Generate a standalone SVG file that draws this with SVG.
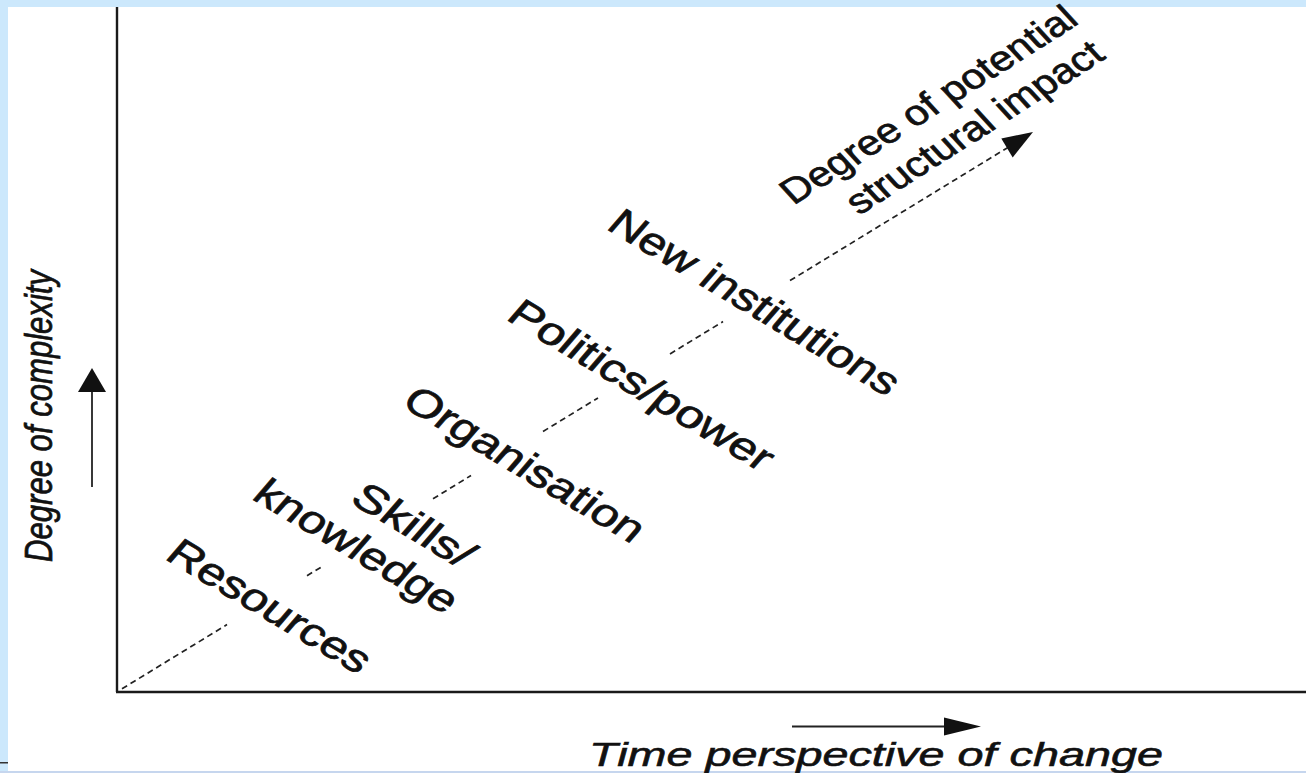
<svg xmlns="http://www.w3.org/2000/svg" width="1306" height="773" viewBox="0 0 1306 773">
<style>
.lbl{font-family:"Liberation Sans",Arial,sans-serif;font-size:38px;fill:#111;stroke:#111;stroke-width:0.7;text-anchor:middle;dominant-baseline:central}
.up{font-size:35px}
.ax{font-family:"Liberation Sans",Arial,sans-serif;font-style:italic;fill:#111;stroke:#111;stroke-width:0.6}
.axis{stroke:#1a1a1a;stroke-width:2.4;fill:none}
.dash{stroke:#222;stroke-width:1.7;stroke-dasharray:6 4;fill:none}
.solid{stroke:#222;stroke-width:1.8;fill:none}
.head{fill:#111}
</style>
<rect width="1306" height="773" fill="#cce8fc"/>
<rect x="8" y="7" width="1298" height="764" fill="#ffffff"/>
<rect x="0" y="771" width="1306" height="2" fill="#c6d6ee"/>
<rect x="0" y="762" width="8" height="1.5" fill="#333"/>

<g id="axes">
<line class="axis" x1="117" y1="7" x2="117" y2="692"/>
<line class="axis" x1="116" y1="692" x2="1306" y2="692"/>
</g>

<g id="connectors">
<line class="dash" x1="122" y1="688.8" x2="227" y2="624.6"/>
<line class="dash" x1="307" y1="575.7" x2="323" y2="566"/>
<line class="dash" x1="433" y1="498.8" x2="471" y2="475.5"/>
<line class="dash" x1="543" y1="431.5" x2="598" y2="397.9"/>
<line class="dash" x1="670" y1="353.9" x2="723" y2="321.6"/>
<line class="dash" x1="790" y1="280.6" x2="1008" y2="147.4"/>
<polygon class="head" points="1033,132 1012.7,157.4 1001.3,138.6"/>
<line class="solid" x1="92" y1="487" x2="92" y2="388"/>
<polygon class="head" points="92,368 106,392 78,392"/>
<line class="solid" x1="792" y1="726.5" x2="946" y2="726.5"/>
<polygon class="head" points="981,726.5 944,717.5 944,735.5"/>
</g>

<g id="axis-y-label"><text class="ax" font-size="32" text-anchor="middle" dominant-baseline="central" textLength="292" lengthAdjust="spacingAndGlyphs" transform="translate(38.5,416) scale(1.24,1) rotate(-90)">Degree of complexity</text></g>
<g id="axis-x-label"><text class="ax" font-size="34" x="589" y="765.5" textLength="574" lengthAdjust="spacingAndGlyphs">Time perspective of change</text></g>

<g id="resources"><text class="lbl" textLength="200" lengthAdjust="spacingAndGlyphs" transform="translate(270,606) scale(1.2,1) rotate(35.75)">Resources</text></g>
<g id="skills">
<text class="lbl" textLength="116" lengthAdjust="spacingAndGlyphs" transform="translate(414,525) scale(1.2,1) rotate(35.75)">Skills/</text>
<text class="lbl" textLength="200" lengthAdjust="spacingAndGlyphs" transform="translate(357,546) scale(1.2,1) rotate(35.75)">knowledge</text>
</g>
<g id="organisation"><text class="lbl" textLength="238" lengthAdjust="spacingAndGlyphs" transform="translate(525,464) scale(1.2,1) rotate(35.75)">Organisation</text></g>
<g id="politics"><text class="lbl" textLength="263" lengthAdjust="spacingAndGlyphs" transform="translate(642,385) scale(1.2,1) rotate(35.75)">Politics/power</text></g>
<g id="institutions"><text class="lbl" textLength="289" lengthAdjust="spacingAndGlyphs" transform="translate(755,302) scale(1.2,1) rotate(35.75)">New institutions</text></g>
<g id="impact">
<text class="lbl up" textLength="301" lengthAdjust="spacingAndGlyphs" transform="translate(928,104.5) scale(1.2,1) rotate(-37.4)">Degree of potential</text>
<text class="lbl up" textLength="260" lengthAdjust="spacingAndGlyphs" transform="translate(974,127) scale(1.2,1) rotate(-37.4)">structural impact</text>
</g>
</svg>
